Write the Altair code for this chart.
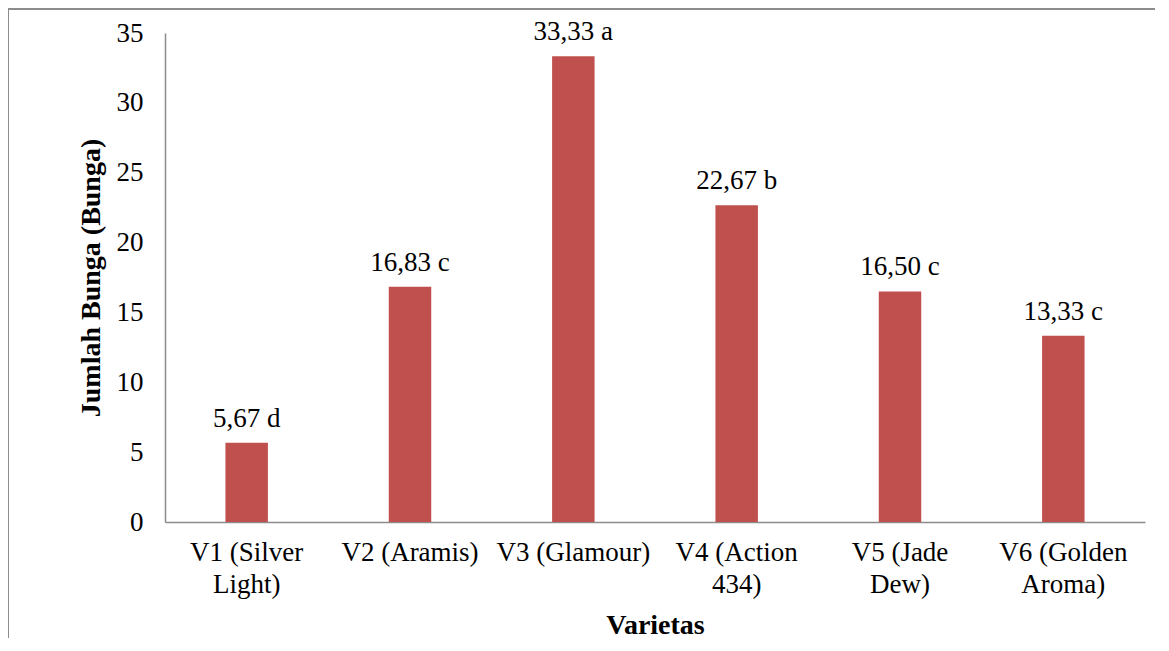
import altair as alt
import pandas as pd

categories = ["V1 (Silver|Light)", "V2 (Aramis)", "V3 (Glamour)", "V4 (Action|434)", "V5 (Jade|Dew)", "V6 (Golden|Aroma)"]
values = [5.67, 16.83, 33.33, 22.67, 16.50, 13.33]
labels = ["5,67 d", "16,83 c", "33,33 a", "22,67 b", "16,50 c", "13,33 c"]
y_ticks = [0, 5, 10, 15, 20, 25, 30, 35]

df = pd.DataFrame({"cat": categories, "val": values, "lab": labels})

FONT = "Liberation Serif, Times New Roman, serif"
W, H = 980, 489

x = alt.X("cat:N", sort=categories, title="Varietas",
          scale=alt.Scale(paddingInner=0.74, paddingOuter=0.37),
          axis=alt.Axis(labelExpr="split(datum.label, '|')", labelAngle=0,
                        ticks=False, labelPadding=17, titlePadding=14,
                        labelLineHeight=32, labelBaseline="top"))
y = alt.Y("val:Q", title="Jumlah Bunga (Bunga)",
          scale=alt.Scale(domain=[0, 35], nice=False),
          axis=alt.Axis(values=y_ticks, ticks=False, grid=False, labelPadding=22, titlePadding=11))

bars = alt.Chart(df).mark_bar(color="#C0504D").encode(x=x, y=y)
text = alt.Chart(df).mark_text(baseline="bottom", dy=-10, font=FONT, fontSize=27, color="black").encode(
    x=alt.X("cat:N", sort=categories), y="val:Q", text="lab:N")

frame_top = alt.Chart(df).mark_rule(color="#8c8c8c", strokeWidth=1.5).encode(
    x=alt.value(-157), x2=alt.value(995), y=alt.value(-24))
frame_left = alt.Chart(df).mark_rule(color="#8c8c8c", strokeWidth=1.5).encode(
    x=alt.value(-157), y=alt.value(-24), y2=alt.value(605))

chart = alt.layer(frame_top, frame_left, bars, text).properties(
    width=W, height=H,
    autosize=alt.AutoSizeParams(type="none"),
    padding={"left": 157, "top": 25, "right": 10, "bottom": 120},
).configure_view(stroke=None).configure_axis(
    labelFont=FONT, titleFont=FONT, labelFontSize=27, titleFontSize=28,
    labelColor="black", titleColor="black", domainColor="#8c8c8c", domainWidth=1.5,
    titleFontWeight="bold",
)

chart.save("out.html", embed_options={"renderer": "svg", "actions": False})
